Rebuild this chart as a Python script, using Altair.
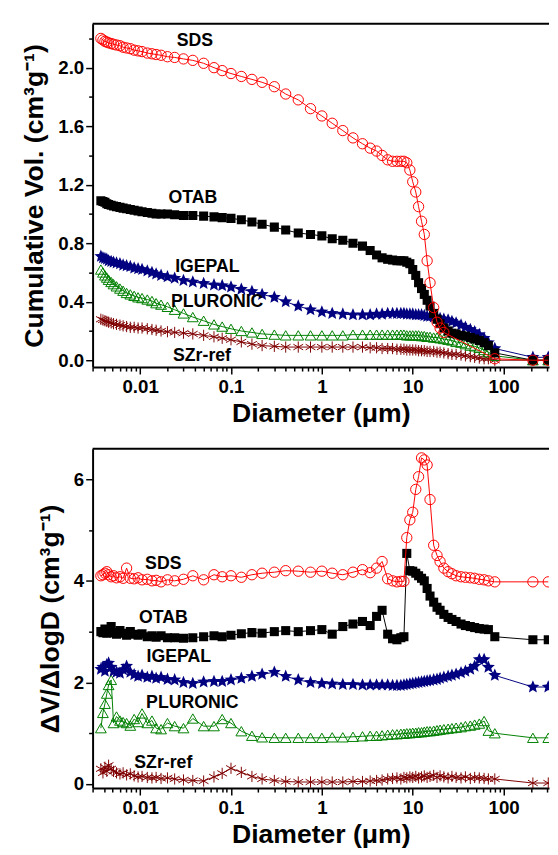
import json
import altair as alt
import pandas as pd

FONT = "Liberation Sans"

# Pore diameters (µm) shared by all samples
diameter = [0.0037, 0.0039, 0.0041, 0.0043, 0.0045, 0.0048, 0.0051, 0.0055, 0.006, 0.0065,
            0.0071, 0.0078, 0.0086, 0.0095, 0.0105, 0.012, 0.0135, 0.015, 0.017, 0.02,
            0.024, 0.03, 0.038, 0.05, 0.065, 0.08, 0.1, 0.13, 0.17, 0.22,
            0.3, 0.4, 0.55, 0.75, 1.0, 1.3, 1.7, 2.2, 2.8, 3.4,
            4.0, 4.6, 5.3, 6.0, 6.7, 7.4, 8.0, 8.6, 9.3, 10,
            10.8, 11.6, 12.5, 13.4, 14.4, 15.5, 17, 18.5, 20, 22,
            24.5, 27, 30, 34, 38, 43, 48, 54, 61, 68,
            80, 210, 310]

series = ["SDS", "OTAB", "IGEPAL", "PLURONIC", "SZr-ref"]
colors = ["#ff0000", "#000000", "#000080", "#008000", "#800000"]

# Cumulative volume (cm3/g)
cum_sds = [2.20, 2.19, 2.18, 2.175, 2.17, 2.165, 2.16, 2.155, 2.15, 2.14,
           2.135, 2.13, 2.12, 2.115, 2.11, 2.10, 2.095, 2.09, 2.085, 2.075,
           2.07, 2.06, 2.05, 2.03, 2.0, 1.98, 1.96, 1.94, 1.92, 1.90,
           1.87, 1.82, 1.78, 1.72, 1.67, 1.62, 1.57, 1.52, 1.48, 1.45,
           1.43, 1.40, 1.37, 1.36, 1.36, 1.36, 1.36, 1.35, 1.30, 1.22,
           1.15, 1.05, 0.95, 0.86, 0.68, 0.53, 0.36, 0.26, 0.22, 0.19,
           None, None, None, None, None, None, None, None, None, None,
           0.01, 0.0, 0.0]
cum_otab = [1.09, 1.085, 1.08, 1.07, 1.065, 1.06, 1.055, 1.05, 1.045, 1.04,
            1.035, 1.03, 1.025, 1.02, 1.015, 1.01, 1.005, 1.0, 1.0, 1.0,
            0.995, 0.99, 0.99, 0.985, 0.98, 0.975, 0.97, 0.96, 0.945, 0.93,
            0.91, 0.89, 0.87, 0.86, 0.85, 0.83, 0.82, 0.80, 0.78, 0.75,
            0.72, 0.70, 0.69, 0.685, 0.68, 0.68, 0.68, 0.67, 0.66, 0.62,
            0.58, 0.53, 0.49, 0.45, 0.41, 0.37, 0.32, 0.28, 0.25, 0.22,
            0.20, 0.185, 0.18, 0.17, 0.165, 0.155, 0.145, 0.135, 0.12, 0.10,
            0.05, 0.0, 0.0]
cum_igepal = [0.71, 0.70, 0.695, 0.69, 0.68, 0.675, 0.67, 0.665, 0.66, 0.65,
              0.645, 0.64, 0.63, 0.625, 0.62, 0.61, 0.60, 0.59, 0.58, 0.57,
              0.56, 0.545, 0.535, 0.525, 0.515, 0.51, 0.50, 0.485, 0.47, 0.45,
              0.43, 0.40, 0.37, 0.345, 0.33, 0.32, 0.315, 0.31, 0.31, 0.31,
              0.315, 0.315, 0.32, 0.32, 0.32, 0.32, 0.32, 0.315, 0.315, 0.315,
              0.31, 0.31, 0.31, 0.305, 0.30, 0.30, 0.295, 0.29, 0.285, 0.28,
              0.275, 0.265, 0.255, 0.24, 0.225, 0.21, 0.195, 0.175, 0.15, 0.12,
              0.08, 0.02, 0.02]
cum_pluronic = [0.62, 0.60, 0.58, 0.565, 0.55, 0.535, 0.52, 0.505, 0.49, 0.475,
                0.46, 0.45, 0.44, 0.43, 0.425, 0.415, 0.405, 0.39, 0.38, 0.365,
                0.345, 0.32, 0.295, 0.27, 0.245, 0.23, 0.215, 0.20, 0.19, 0.18,
                0.175, 0.17, 0.17, 0.17, 0.17, 0.17, 0.17, 0.175, 0.175, 0.175,
                0.175, 0.175, 0.175, 0.175, 0.175, 0.175, 0.175, 0.17, 0.17, 0.17,
                0.17, 0.17, 0.165, 0.165, 0.16, 0.16, 0.155, 0.155, 0.15, 0.145,
                0.14, 0.135, 0.125, 0.12, 0.11, 0.10, 0.095, 0.085, 0.07, 0.055,
                0.03, 0.0, 0.0]
cum_szr = [0.28, 0.275, 0.27, 0.265, 0.26, 0.255, 0.25, 0.245, 0.24, 0.235,
           0.23, 0.225, 0.225, 0.22, 0.22, 0.215, 0.21, 0.205, 0.20, 0.195,
           0.19, 0.185, 0.18, 0.17, 0.16, 0.15, 0.14, 0.125, 0.11, 0.10,
           0.095, 0.09, 0.09, 0.09, 0.09, 0.09, 0.09, 0.09, 0.09, 0.085,
           0.085, 0.08, 0.08, 0.08, 0.075, 0.075, 0.075, 0.07, 0.07, 0.07,
           0.07, 0.065, 0.065, 0.065, 0.06, 0.06, 0.06, 0.055, 0.055, 0.05,
           0.045, 0.04, 0.04, 0.035, 0.03, 0.025, 0.02, 0.015, 0.01, 0.01,
           0.0, 0.0, 0.0]

# dV/dlogD (cm3/g)
dv_sds = [4.1, 4.12, 4.15, 4.18, 4.12, 4.08, 4.1, 4.06, 4.08, 4.05,
          4.25, 4.05, 4.04, 4.06, 4.02, 4.03, 4.0, 4.01, 3.98, 4.02,
          4.0, 4.03, 4.1, 4.02, 4.12, 4.08, 4.1, 4.07, 4.12, 4.15,
          4.17, 4.2, 4.19, 4.17, 4.19, 4.15, 4.12, 4.17, 4.22, 4.16,
          4.25, 4.38, 4.04, 4.0, 3.98, 3.99, 3.99, 4.85, 5.2, 5.35,
          5.8, 6.05, 6.42, 6.38, 6.28, 5.6, 4.7, 4.5, 4.38, 4.25,
          4.18, 4.14, 4.1, 4.08, 4.07, 4.06, 4.05, 4.03, 4.02, 4.0,
          3.98, 3.98, 3.98]
dv_otab = [3.0, 2.98, 3.05, 2.97, 3.0, 3.1, 2.98, 2.95, 3.02, 2.97,
           2.93, 3.0, 2.95, 2.93, 2.96, 2.9, 2.92, 2.89, 2.92, 2.88,
           2.88, 2.87, 2.88, 2.9, 2.92, 2.9, 2.93, 2.96, 2.98, 2.97,
           3.0, 3.02, 3.0, 3.02, 3.04, 2.95, 3.1, 3.15, 3.2, 3.12,
           3.3, 3.42, 2.95, 2.86, 2.84, 2.88, 2.9, 4.54, 4.2, 4.19,
           4.15, 4.1, 4.05, 4.0, 3.85, 3.7, 3.58, 3.48, 3.42, 3.34,
           3.28, 3.24, 3.2, 3.15, 3.12, 3.1, 3.08, 3.06, 3.05, 3.04,
           2.9, 2.84, 2.84]
dv_igepal = [2.26, 2.3, 2.22, 2.35, 2.38, 2.3, 2.22, 2.2, 2.18, 2.25,
             2.32, 2.2, 2.15, 2.12, 2.14, 2.1, 2.12, 2.08, 2.1, 2.06,
             2.05, 2.0, 1.98, 2.01, 2.02, 2.02, 2.05, 2.08, 2.12, 2.16,
             2.2, 2.12, 2.05, 2.0, 1.98, 1.97, 1.96, 1.96, 1.95, 1.95,
             1.95, 1.95, 1.95, 1.94, 1.94, 1.94, 1.95, 1.96, 1.97, 1.98,
             1.99, 2.0, 2.01, 2.02, 2.03, 2.04, 2.05, 2.06, 2.08, 2.1,
             2.12, 2.14, 2.16, 2.19, 2.22, 2.26, 2.32, 2.45, 2.45, 2.3,
             2.14, 1.91, 1.91]
dv_pluronic = [1.1, 1.4, 1.58, 1.78, 1.95, 2.05, 1.2, 1.33, 1.25, 1.22,
               1.2, 1.15, 1.28, 1.22, 1.39, 1.2, 1.25, 1.1, 1.08, 1.2,
               1.14, 1.1, 1.29, 1.14, 1.14, 1.28, 1.2, 1.04, 0.95, 0.92,
               0.91, 0.91, 0.91, 0.91, 0.91, 0.92, 0.92, 0.93, 0.94, 0.95,
               0.95, 0.96, 0.97, 0.98, 0.98, 0.99, 0.99, 1.0, 1.0, 1.01,
               1.01, 1.02, 1.02, 1.03, 1.04, 1.04, 1.05, 1.06, 1.07, 1.08,
               1.09, 1.1, 1.11, 1.12, 1.14, 1.15, 1.17, 1.19, 1.24, 1.05,
               1.0, 0.91, 0.91]
dv_szr = [0.3, 0.22, 0.33, 0.25, 0.37, 0.3, 0.25, 0.22, 0.2, 0.22,
          0.18, 0.2, 0.16, 0.14, 0.15, 0.13, 0.12, 0.13, 0.11, 0.12,
          0.1, 0.08, 0.07, 0.06, 0.14, 0.21, 0.31, 0.23, 0.15, 0.1,
          0.07, 0.05, 0.04, 0.04, 0.04, 0.04, 0.04, 0.05, 0.05, 0.06,
          0.07, 0.08, 0.1, 0.11, 0.12, 0.1, 0.13, 0.12, 0.14, 0.13,
          0.15, 0.12, 0.14, 0.16, 0.13, 0.15, 0.17, 0.13, 0.16, 0.14,
          0.12, 0.15, 0.13, 0.12, 0.14, 0.11, 0.13, 0.12, 0.11, 0.1,
          0.1, 0.02, 0.02]

cum_values = [cum_sds, cum_otab, cum_igepal, cum_pluronic, cum_szr]
dv_values = [dv_sds, dv_otab, dv_igepal, dv_pluronic, dv_szr]

# Series label anchors (data coordinates)
label_top_x = [0.040, 0.038, 0.055, 0.0705, 0.048]
label_top_y = [2.18, 1.11, 0.64, 0.40, 0.03]
label_bot_x = [0.018, 0.018, 0.0267, 0.0375, 0.018]
label_bot_y = [4.33, 3.27, 2.49, 1.60, 0.41]

x_major = [0.01, 0.1, 1, 10, 100]
y_top_ticks = [0.0, 0.2, 0.4, 0.6, 0.8, 1.0, 1.2, 1.4, 1.6, 1.8, 2.0, 2.2]
y_top_major = [0.0, 0.4, 0.8, 1.2, 1.6, 2.0]
y_bot_ticks = [0, 1, 2, 3, 4, 5, 6]
y_bot_major = [0, 2, 4, 6]

X_DOMAIN = [0.003, 316]
W = 464

ASTERISK = "M0,-1L0,1M-0.87,-0.5L0.87,0.5M-0.87,0.5L0.87,-0.5"
STAR = ("M0,-1L0.265,-0.364L0.951,-0.309L0.428,0.139L0.588,0.809L0,0.45"
        "L-0.588,0.809L-0.428,0.139L-0.951,-0.309L-0.265,-0.364Z")
marker = {
    "SDS": dict(shape="circle", filled=False, size=110),
    "OTAB": dict(shape="square", filled=True, size=85),
    "IGEPAL": dict(shape=STAR, filled=True, size=190),
    "PLURONIC": dict(shape="triangle-up", filled=False, size=120),
    "SZr-ref": dict(shape=ASTERISK, filled=False, size=130),
}

x_ticks = []
for dec in [0.001, 0.01, 0.1, 1, 10, 100]:
    for k in range(1, 10):
        v = round(k * dec, 6)
        if X_DOMAIN[0] <= v <= X_DOMAIN[1]:
            x_ticks.append(v)


def major_test(major):
    return f"indexof({json.dumps(major)}, datum.value) >= 0"


def axis(vals, major, fmt, label_pad, title_pad):
    return alt.Axis(
        values=vals,
        labelExpr=f"{major_test(major)} ? format(datum.value, '{fmt}') : ''",
        tickSize={"condition": {"test": major_test(major), "value": 7}, "value": 4},
        labelOverlap=False,
        labelFlush=False,
        labelPadding=label_pad,
        titlePadding=title_pad,
        grid=False,
    )


def panel(values, lx, ly, y_title, y_domain, y_ticks, y_major, y_fmt, height):
    x_enc = alt.X("d:Q", scale=alt.Scale(type="log", domain=X_DOMAIN, nice=False),
                  axis=axis(x_ticks, x_major, "~g", 4, 4), title="Diameter (μm)")
    y_enc = alt.Y("v:Q", scale=alt.Scale(domain=y_domain, nice=False, zero=False),
                  axis=axis(y_ticks, y_major, y_fmt, 2, 9), title=y_title)
    layers = []
    for i in reversed(range(len(series))):
        name = series[i]
        df = pd.DataFrame({"d": diameter, "v": values[i]}).dropna()
        base = alt.Chart(df)
        layers.append(base.mark_line(color=colors[i], strokeWidth=1, clip=True)
                      .encode(x=x_enc, y=y_enc))
        m = marker[name]
        layers.append(base.mark_point(shape=m["shape"], filled=m["filled"], size=m["size"],
                                      color=colors[i], strokeWidth=1, opacity=1, clip=True)
                      .encode(x=x_enc, y=y_enc))
    lab = pd.DataFrame({"d": lx, "v": ly, "t": series})
    layers.append(alt.Chart(lab).mark_text(font=FONT, fontSize=18, fontWeight="bold",
                                           color="black", align="center", baseline="middle")
                  .encode(x=x_enc, y=y_enc, text="t:N"))
    frame = alt.Chart(pd.DataFrame({"a": [0]})).mark_rule(color="black", strokeWidth=2).encode(
        x=alt.value(0), x2=alt.value(W), y=alt.value(0))
    layers.append(frame)
    return alt.layer(*layers).properties(width=W, height=height)


top = panel(cum_values, label_top_x, label_top_y, "Cumulative Vol. (cm³g⁻¹)",
            [-0.047, 2.3], y_top_ticks, y_top_major, ".1f", 349)
bottom = panel(dv_values, label_bot_x, label_bot_y, "ΔV/ΔlogD (cm³g⁻¹)",
               [-0.08, 6.6], y_bot_ticks, y_bot_major, "d", 345)

chart = alt.vconcat(top, bottom, spacing=83, bounds="flush").properties(
    padding={"left": 13, "top": 8, "right": 0, "bottom": 5}
).configure_axis(
    domainColor="black", domainWidth=2, tickColor="black", tickWidth=1.5,
    labelColor="black", titleColor="black", labelFont=FONT, titleFont=FONT,
    labelFontSize=19, labelFontWeight="bold", titleFontSize=27, titleFontWeight="bold",
).configure_view(stroke=None)

chart.save("out.html", embed_options={"renderer": "svg", "actions": False})
